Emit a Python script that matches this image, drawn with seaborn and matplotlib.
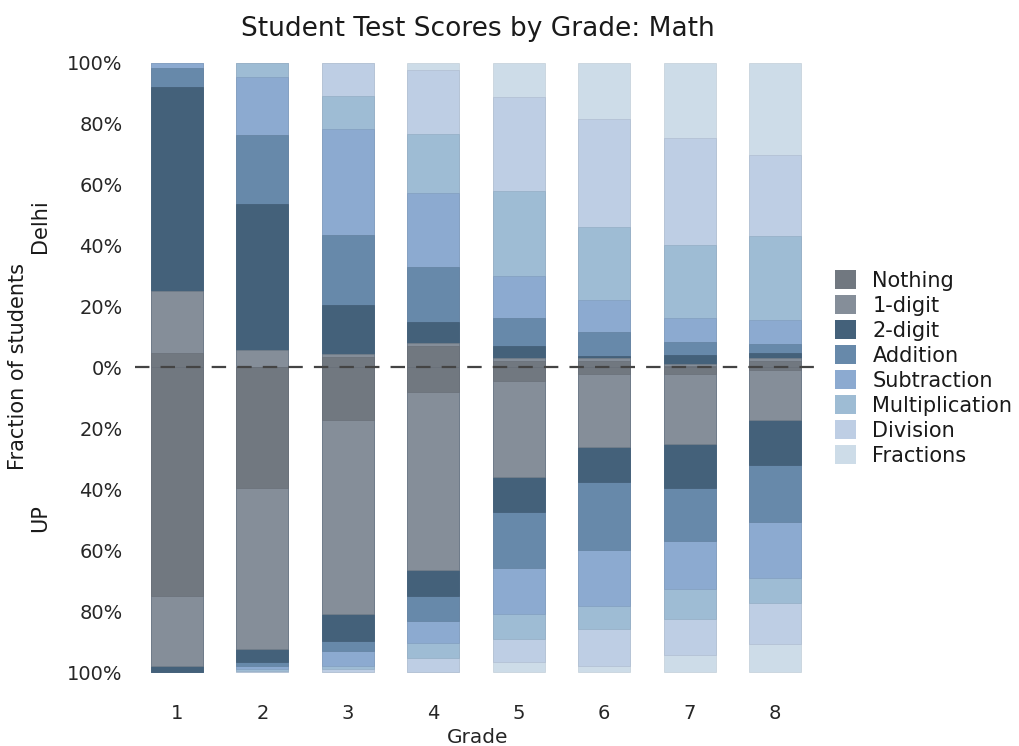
import numpy as np
import pandas as pd
import matplotlib
matplotlib.use("Agg")
import matplotlib.pyplot as plt
from matplotlib.patches import Patch
from matplotlib.ticker import FuncFormatter
import seaborn as sns

grades = [1, 2, 3, 4, 5, 6, 7, 8]
levels = ["Nothing", "1-digit", "2-digit", "Addition", "Subtraction",
          "Multiplication", "Division", "Fractions"]
colors = ["#717880", "#858e99", "#44617a", "#6789aa", "#8caad0",
          "#9ebcd4", "#becee4", "#cddce8"]

# Delhi (% of students, stacked upward)
delhi_nothing = [4.6, 0.3, 3.5, 7.2, 2.0, 2.0, 0.5, 2.2]
delhi_1digit = [20.4, 5.5, 1.0, 0.9, 1.0, 1.0, 0.5, 1.0]
delhi_2digit = [67.0, 48.0, 16.0, 6.8, 3.9, 0.9, 3.0, 1.5]
delhi_add = [6.2, 22.6, 23.0, 18.1, 9.3, 7.7, 4.2, 3.1]
delhi_sub = [1.8, 18.9, 34.9, 24.1, 13.7, 10.6, 7.9, 7.9]
delhi_mult = [0.0, 4.7, 10.8, 19.5, 27.9, 23.9, 24.1, 27.5]
delhi_div = [0.0, 0.0, 10.8, 21.1, 31.0, 35.3, 35.1, 26.5]
delhi_frac = [0.0, 0.0, 0.0, 2.3, 11.2, 18.6, 24.7, 30.3]

# UP (% of students, stacked downward)
up_nothing = [75.0, 39.6, 17.4, 7.9, 4.5, 2.1, 2.3, 0.8]
up_1digit = [23.0, 52.7, 63.6, 58.5, 31.5, 24.1, 22.7, 16.4]
up_2digit = [2.0, 4.2, 8.9, 8.7, 11.3, 11.5, 14.4, 14.8]
up_add = [0.0, 1.3, 3.3, 8.2, 18.5, 22.1, 17.6, 18.8]
up_sub = [0.0, 1.1, 4.8, 7.0, 15.1, 18.4, 15.7, 18.4]
up_mult = [0.0, 0.6, 0.9, 4.9, 8.2, 7.7, 9.8, 8.2]
up_div = [0.0, 0.5, 1.1, 4.8, 7.6, 11.9, 11.9, 13.3]
up_frac = [0.0, 0.0, 0.0, 0.0, 3.3, 2.2, 5.6, 9.3]

delhi = [delhi_nothing, delhi_1digit, delhi_2digit, delhi_add,
         delhi_sub, delhi_mult, delhi_div, delhi_frac]
up = [up_nothing, up_1digit, up_2digit, up_add,
      up_sub, up_mult, up_div, up_frac]

sns.set_theme(style="white")
plt.rcParams["font.family"] = ["DejaVu Sans"]
plt.rcParams["text.color"] = "#1a1a1a"

fig = plt.figure(figsize=(10.19, 7.46), dpi=100)
ax = fig.add_axes([0.1325, 0.094, 0.6725, 0.826])


def darker(c, f=0.9):
    r, g, b = matplotlib.colors.to_rgb(c)
    return (r * f, g * f, b * f)


# stacked bars: draw cumulative totals from the outermost layer inward
for sign, region in [(1, delhi), (-1, up)]:
    cum = np.cumsum(np.array(region), axis=0)
    for i in range(len(levels) - 1, -1, -1):
        layer = pd.DataFrame({"grade": grades, "value": sign * cum[i]})
        sns.barplot(data=layer, x="grade", y="value", color=colors[i],
                    saturation=1, width=0.61, errorbar=None,
                    edgecolor=darker(colors[i]), linewidth=0.4, ax=ax)

ax.axhline(0, color="#444444", lw=1.6, ls=(0, (6.5, 5)), zorder=10,
           clip_on=False)

ax.set_xlim(-0.49, 7.53)
ax.set_ylim(-101.2, 101.0)
ax.set_yticks([-100, -80, -60, -40, -20, 0, 20, 40, 60, 80, 100])
ax.yaxis.set_major_formatter(FuncFormatter(lambda v, p: f"{abs(v):.0f}%"))
ax.tick_params(axis="y", length=0, pad=9, labelsize=14)
ax.tick_params(axis="x", length=0, pad=20, labelsize=14)
for s in ax.spines.values():
    s.set_visible(False)

ax.set_xlabel("Grade", fontsize=14.5, labelpad=4)
ax.set_ylabel("")
ax.set_title("Student Test Scores by Grade: Math", fontsize=19, pad=17)

fig.text(18 / 1019, 1 - 366 / 746, "Fraction of students", rotation=90,
         ha="center", va="center", fontsize=15)
fig.text(40 / 1019, 1 - 226 / 746, "Delhi", rotation=90,
         ha="center", va="center", fontsize=15)
fig.text(40 / 1019, 1 - 518 / 746, "UP", rotation=90,
         ha="center", va="center", fontsize=15)

handles = [Patch(facecolor=c, edgecolor="none", label=l)
           for l, c in zip(levels, colors)]
fig.legend(handles=handles, loc="center left",
           bbox_to_anchor=(835 / 1019, 1 - 368 / 746), frameon=False,
           fontsize=15, handlelength=1.0, handleheight=1.0,
           handletextpad=0.8, labelspacing=0.22, borderpad=0,
           borderaxespad=0)

fig.savefig("out.png", dpi=100)
